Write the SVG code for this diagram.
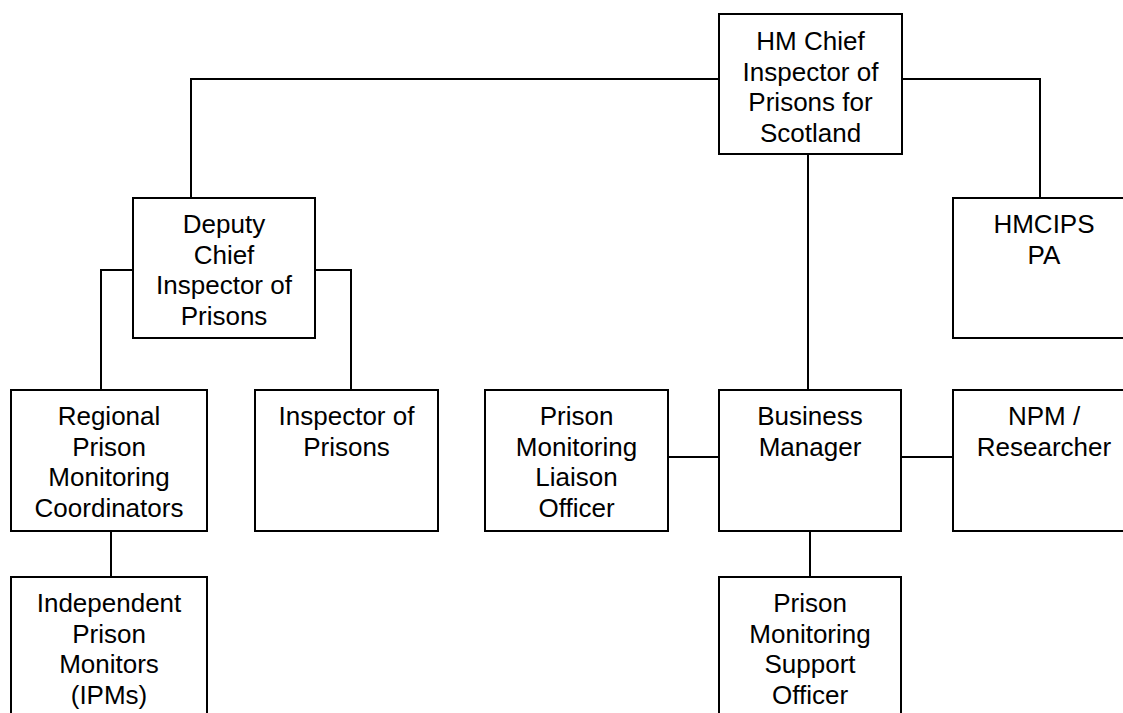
<svg xmlns="http://www.w3.org/2000/svg" width="1123" height="713" viewBox="0 0 1123 713">
<style>
.box{fill:#fff;stroke:#000;stroke-width:2}
.ln{fill:none;stroke:#000;stroke-width:2}
text{font-family:"Liberation Sans",Arial,sans-serif;font-size:26px;text-anchor:middle;fill:#000}
</style>
<rect width="1123" height="713" fill="#fff"/>
<g id="connectors">
<polyline class="ln" points="719,79 191,79 191,198"/>
<polyline class="ln" points="902,79 1040,79 1040,198"/>
<line class="ln" x1="808" y1="154" x2="808" y2="390"/>
<polyline class="ln" points="133,270 101,270 101,390"/>
<polyline class="ln" points="315,270 351,270 351,390"/>
<line class="ln" x1="111" y1="531" x2="111" y2="577"/>
<line class="ln" x1="668" y1="457" x2="719" y2="457"/>
<line class="ln" x1="901" y1="457" x2="953" y2="457"/>
<line class="ln" x1="810" y1="531" x2="810" y2="577"/>
</g>
<g id="chief">
<rect class="box" x="719" y="14" width="183" height="140"/>
<text x="810.5" y="50">HM Chief<tspan x="810.5" dy="30.7">Inspector of</tspan><tspan x="810.5" dy="30.7">Prisons for</tspan><tspan x="810.5" dy="30.7">Scotland</tspan></text>
</g>
<g id="deputy">
<rect class="box" x="133" y="198" width="182" height="140"/>
<text x="224" y="233">Deputy<tspan x="224" dy="30.7">Chief</tspan><tspan x="224" dy="30.7">Inspector of</tspan><tspan x="224" dy="30.7">Prisons</tspan></text>
</g>
<g id="pa">
<rect class="box" x="953" y="198" width="183" height="140"/>
<text x="1044" y="233">HMCIPS<tspan x="1044" dy="30.7">PA</tspan></text>
</g>
<g id="regional">
<rect class="box" x="11" y="390" width="196" height="141"/>
<text x="109" y="425">Regional<tspan x="109" dy="30.7">Prison</tspan><tspan x="109" dy="30.7">Monitoring</tspan><tspan x="109" dy="30.7">Coordinators</tspan></text>
</g>
<g id="inspector">
<rect class="box" x="255" y="390" width="183" height="141"/>
<text x="346.5" y="425">Inspector of<tspan x="346.5" dy="30.7">Prisons</tspan></text>
</g>
<g id="liaison">
<rect class="box" x="485" y="390" width="183" height="141"/>
<text x="576.5" y="425">Prison<tspan x="576.5" dy="30.7">Monitoring</tspan><tspan x="576.5" dy="30.7">Liaison</tspan><tspan x="576.5" dy="30.7">Officer</tspan></text>
</g>
<g id="business">
<rect class="box" x="719" y="390" width="182" height="141"/>
<text x="810" y="425">Business<tspan x="810" dy="30.7">Manager</tspan></text>
</g>
<g id="npm">
<rect class="box" x="953" y="390" width="183" height="141"/>
<text x="1044" y="425">NPM /<tspan x="1044" dy="30.7">Researcher</tspan></text>
</g>
<g id="ipm">
<rect class="box" x="11" y="577" width="196" height="141"/>
<text x="109" y="612">Independent<tspan x="109" dy="30.7">Prison</tspan><tspan x="109" dy="30.7">Monitors</tspan><tspan x="109" dy="30.7">(IPMs)</tspan></text>
</g>
<g id="support">
<rect class="box" x="719" y="577" width="182" height="141"/>
<text x="810" y="612">Prison<tspan x="810" dy="30.7">Monitoring</tspan><tspan x="810" dy="30.7">Support</tspan><tspan x="810" dy="30.7">Officer</tspan></text>
</g>
</svg>
